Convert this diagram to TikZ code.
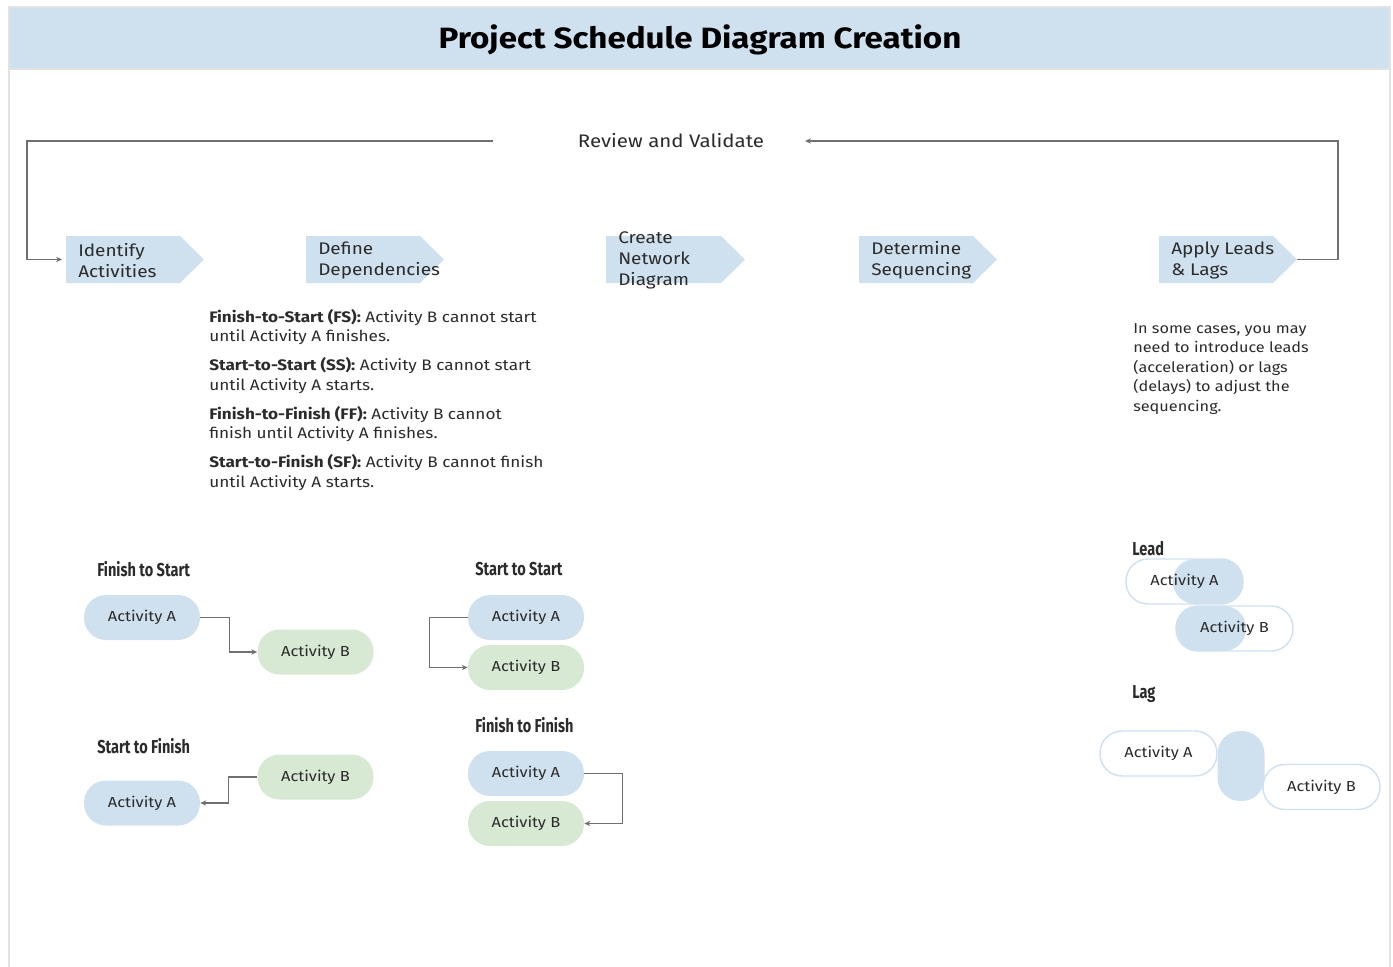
\documentclass[tikz,border=0pt]{standalone}
\usepackage{fontspec}
\setmainfont[FakeStretch=1.13]{Fira Sans}
\newfontfamily\condfont[FakeStretch=0.78]{Fira Sans}
\usetikzlibrary{arrows.meta}
\definecolor{bandblue}{HTML}{CFE0EF}
\definecolor{pillblue}{HTML}{CFE0EF}
\definecolor{pillgreen}{HTML}{D7E8D3}
\definecolor{framegray}{HTML}{E2E2E2}
\definecolor{linegray}{HTML}{707070}
\definecolor{txt}{HTML}{2B2B2B}
\tikzset{
  chevfill/.style={fill=bandblue},
  chevtext/.style={anchor=west, align=left, font=\fontsize{12.6pt}{15.8pt}\selectfont, text=txt, inner sep=0pt},
  pill/.style={rectangle, rounded corners=16.5pt, minimum width=87pt, minimum height=33.75pt, inner sep=0pt, font=\fontsize{10.9pt}{12pt}\selectfont, text=txt},
  apill/.style={pill, fill=pillblue},
  bpill/.style={pill, fill=pillgreen},
  opill/.style={pill, draw=pillblue, line width=1.1pt, minimum width=87.75pt},
  bluebit/.style={rectangle, fill=pillblue, inner sep=0pt},
  conn/.style={draw=linegray, line width=1pt, -{Stealth[length=4.5pt,width=4pt]}},
  loopline/.style={draw=linegray, line width=1pt, -{Stealth[length=4.5pt,width=4pt]}},
  sublabel/.style={anchor=west, inner sep=0pt, font=\condfont\bfseries\fontsize{14pt}{16pt}\selectfont, text=txt},
  desc/.style={anchor=north west, align=left, inner sep=0pt, text=txt}
}
\begin{document}
\begin{tikzpicture}[x=0.75pt,y=-0.75pt]
\useasboundingbox (0,0) rectangle (1393,967);
% frame and title band
\fill[bandblue] (9,7) rectangle (1390,69);
\draw[framegray, line width=1.2pt] (9,967) -- (9,7) -- (1390,7) -- (1390,967);
\draw[framegray, line width=1pt] (9,69) -- (1390,69);
\node[font=\bfseries\fontsize{22pt}{26pt}\selectfont, text=black] (title) at (700,40) {Project Schedule Diagram Creation};

% review label
\node[font=\fontsize{13.6pt}{16pt}\selectfont, text=txt] (rv) at (671,141) {Review and Validate};

% chevrons
\fill[chevfill] (66,236) -- (180,236) -- (204,259.5) -- (180,283) -- (66,283) -- cycle;
\coordinate (c1w) at (66,259.5);
\node[chevtext] (c1) at (78,260.5) {Identify\\Activities};

\fill[chevfill] (306,236) -- (420,236) -- (444,259.5) -- (420,283) -- (306,283) -- cycle;
\node[chevtext] (c2) at (318,260.5) {Define\\Dependencies};

\fill[chevfill] (606,236) -- (721,236) -- (745,259.5) -- (721,283) -- (606,283) -- cycle;
\node[chevtext] (c3) at (618,260.5) {Create\\Network\\Diagram};

\fill[chevfill] (859,236) -- (973,236) -- (997,259.5) -- (973,283) -- (859,283) -- cycle;
\node[chevtext] (c4) at (871,260.5) {Determine\\Sequencing};

\fill[chevfill] (1159,236) -- (1273,236) -- (1297,259.5) -- (1273,283) -- (1159,283) -- cycle;
\coordinate (c5e) at (1297,259.5);
\node[chevtext] (c5) at (1171,260.5) {Apply Leads\\\& Lags};

% feedback loop
\coordinate (lpL) at (493,141);
\coordinate (lpR) at (805,141);
\coordinate (k1) at (27,141);
\coordinate (k2) at (1338,141);
\draw[loopline] (lpL) -- (k1) |- ([xshift=-3pt]c1w);
\draw[loopline] (c5e) -| (k2) -- (lpR);

% definitions
\node[desc, font=\fontsize{11.4pt}{14.4pt}\selectfont] (defs) at (209,309) {%
\textbf{Finish-to-Start (FS):} Activity B cannot start\\
until Activity A finishes.\\[7.6pt]
\textbf{Start-to-Start (SS):} Activity B cannot start\\
until Activity A starts.\\[7.6pt]
\textbf{Finish-to-Finish (FF):} Activity B cannot\\
finish until Activity A finishes.\\[7.6pt]
\textbf{Start-to-Finish (SF):} Activity B cannot finish\\
until Activity A starts.};

\node[desc, font=\fontsize{10.8pt}{14.6pt}\selectfont] (leadtxt) at (1133,323) {%
In some cases, you may\\
need to introduce leads\\
(acceleration) or lags\\
(delays) to adjust the\\
sequencing.};

% Finish to Start
\node[sublabel] (fsL) at (97,569) {Finish to Start};
\node[apill] (fsA) at (142,617.5) {Activity A};
\node[bpill] (fsB) at (315.5,652) {Activity B};
\draw[conn] (fsA.east) -- ++(29,0) |- (fsB.west);

% Start to Finish
\node[sublabel] (sfL) at (97,746) {Start to Finish};
\node[bpill] (sfB) at (315.5,777) {Activity B};
\node[apill] (sfA) at (142,803) {Activity A};
\draw[conn] (sfB.west) -- ++(-29,0) |- (sfA.east);

% Start to Start
\node[sublabel] (ssL) at (475,569) {Start to Start};
\node[apill] (ssA) at (526,617.5) {Activity A};
\node[bpill] (ssB) at (526,667.5) {Activity B};
\draw[conn] (ssA.west) -- ++(-38,0) |- (ssB.west);

% Finish to Finish
\node[sublabel] (ffL) at (475,725) {Finish to Finish};
\node[apill] (ffA) at (526,773.5) {Activity A};
\node[bpill] (ffB) at (526,823.5) {Activity B};
\draw[conn] (ffA.east) -- ++(38,0) |- (ffB.east);

% Lead
\node[sublabel] (ldL) at (1132,549) {Lead};
\node[bluebit, rounded corners=16.5pt, minimum width=52.5pt, minimum height=33.75pt] (ldAx) at (1208,581.5) {};
\node[bluebit, rounded corners=16.5pt, minimum width=52.5pt, minimum height=33.75pt] (ldBx) at (1211,628.5) {};
\node[opill] (ldA) at (1184.5,581.5) {Activity A};
\node[opill] (ldB) at (1234.5,628.5) {Activity B};

% Lag
\node[sublabel] (lgL) at (1132,694) {Lag};
\node[bluebit, rounded corners=17pt, minimum width=35.25pt, minimum height=52.5pt] (lgX) at (1241,766) {};
\node[opill] (lgA) at (1158.5,753.5) {Activity A};
\node[opill] (lgB) at (1321.5,787) {Activity B};
\end{tikzpicture}
\end{document}
